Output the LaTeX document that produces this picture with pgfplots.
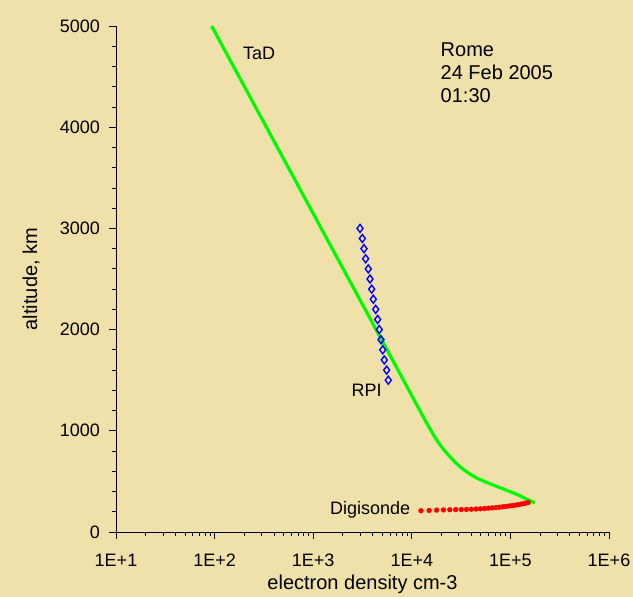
\documentclass[border=0pt]{standalone}
\usepackage{pgfplots}
\pgfplotsset{compat=1.18}
\usepackage{fontspec}
\setmainfont{Liberation Sans}
\definecolor{bg}{RGB}{240,224,170}
\definecolor{tadgreen}{RGB}{0,250,0}
\begin{document}
\fontsize{18}{21}\selectfont
\begin{tikzpicture}[x=1pt,y=1pt]
\fill[bg] (0,0) rectangle (633,597);
\useasboundingbox (0,0) rectangle (633,597);
\begin{axis}[
  at={(116pt,65pt)}, anchor=south west,
  scale only axis, width=493pt, height=506pt,
  xmode=log, xmin=10, xmax=1e6, ymin=0, ymax=5000,
  axis x line*=bottom, axis y line*=left,
  axis line style={-, line width=0.8pt},
  every tick/.style={black, line width=0.8pt},
  xtick={1e1,1e2,1e3,1e4,1e5,1e6},
  xticklabels={1E+1,1E+2,1E+3,1E+4,1E+5,1E+6},
  ytick={0,1000,2000,3000,4000,5000},
  minor y tick num=4,
  tick align=outside,
  major tick length=7pt, minor tick length=4pt,
  tick label style={font=\fontsize{18}{21}\selectfont},
  xticklabel style={yshift=-9pt},
  yticklabel style={xshift=-3pt},
  /pgf/number format/assume math mode=true,
  /pgf/number format/set thousands separator={},
  clip=false,
]
\addplot[tadgreen, line width=3.2pt, smooth, tension=0.5] coordinates {
  (93.3,5000) (335.7,4000) (1208,3000) (4345,2000) (8241,1500) (13614,1107)
  (17906,909) (22594,780) (30832,645) (45499,534) (78524,438) (115880,373)
  (151010,318) (177420,287)
};
\addplot[only marks, mark=diamond, mark size=4pt, blue, mark options={line width=1.4pt, fill=none}] coordinates {
  (2985,3000) (3150,2900) (3275,2800) (3405,2700) (3620,2600) (3770,2500)
  (3920,2400) (4070,2300) (4305,2200) (4510,2100) (4680,2000) (4870,1900)
  (5070,1800) (5260,1700) (5560,1600) (5780,1500)
};
\addplot[only marks, mark=*, mark size=2.4pt, red, mark options={draw=red, fill=red}] coordinates {
  (12400,210) (15004,213) (17856,216) (20956,218) (24304,220) (27900,221)
  (31744,222) (35836,223) (40176,225) (44764,227) (49600,229) (54684,232)
  (60016,235) (65596,238) (71424,241) (77500,245) (83824,249) (90396,253)
  (97216,257) (104284,261) (111600,265) (119164,270) (126976,275) (135036,280)
  (143344,285) (151900,292)
};
\end{axis}
\begin{scope}[every node/.style={inner sep=0pt}]
\node[anchor=base, font=\fontsize{20}{23}\selectfont] at (362.5,7) {electron density cm-3};
\node[anchor=base, rotate=90, font=\fontsize{20}{23}\selectfont] at (37,318) {altitude, km};
\node[anchor=base west] at (243,537) {TaD};
\node[anchor=base west, font=\fontsize{20}{23}\selectfont] at (440.5,540.3) {Rome};
\node[anchor=base west, font=\fontsize{20}{23}\selectfont] at (440.5,517.3) {24 Feb 2005};
\node[anchor=base west, font=\fontsize{20}{23}\selectfont] at (440.5,494.3) {01:30};
\node[anchor=base west] at (351.5,200) {RPI};
\node[anchor=base west] at (330,82) {Digisonde};
\end{scope}
\end{tikzpicture}
\end{document}
